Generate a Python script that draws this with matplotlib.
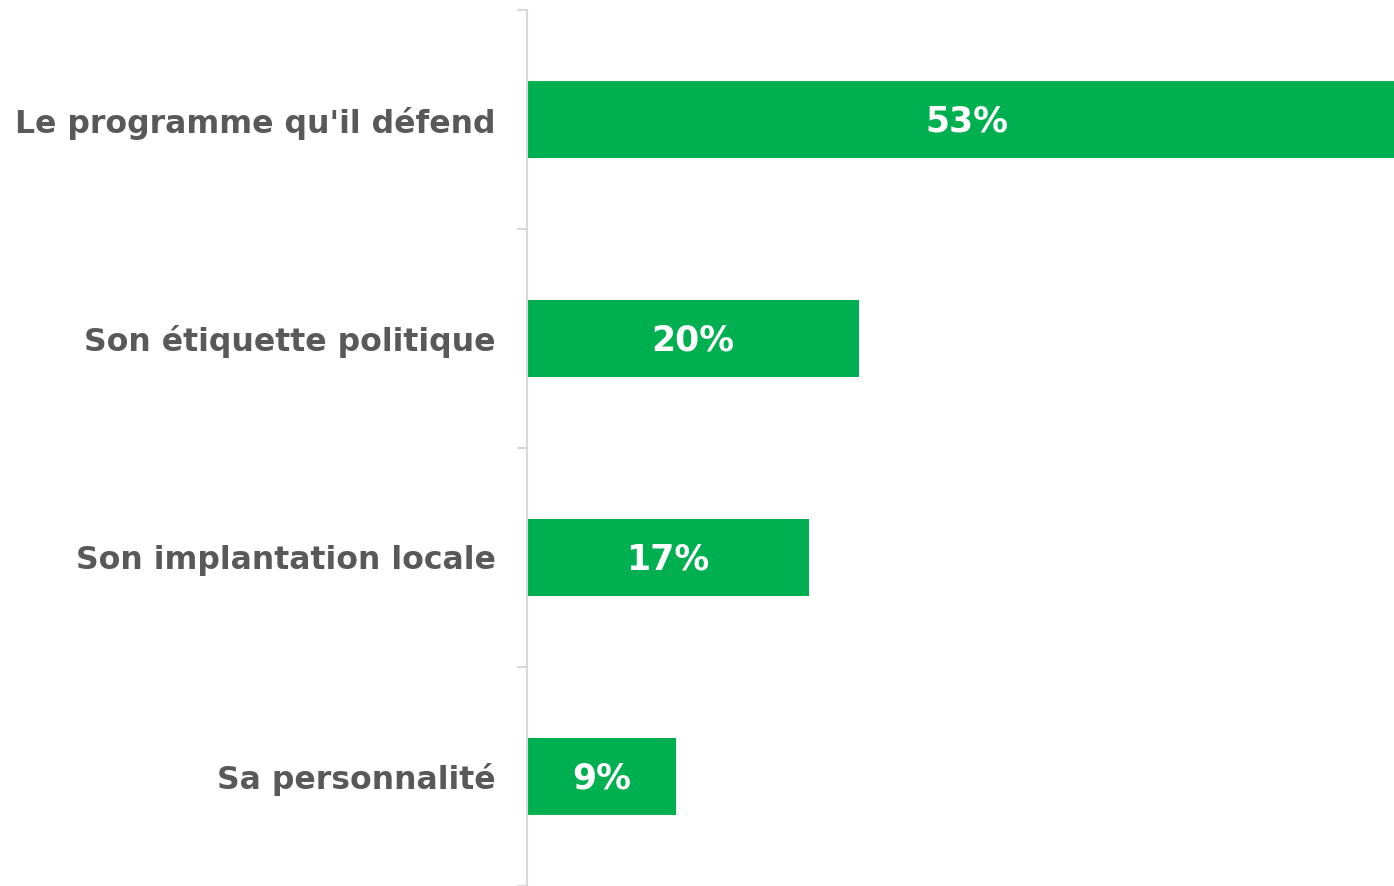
import matplotlib
matplotlib.use("Agg")
import matplotlib.pyplot as plt
import numpy as np

categories = ["Le programme qu'il défend", "Son étiquette politique",
              "Son implantation locale", "Sa personnalité"]
values = [53, 20, 17, 9]
value_labels = ["53%", "20%", "17%", "9%"]

W, H = 1394, 886
fig = plt.figure(figsize=(W / 100, H / 100), dpi=100)
ax = fig.add_axes([526.5 / W, 0, 1 - 526.5 / W, 1 - 10 / H])

n = len(categories)
y = np.arange(n)
green = "#00B050"
ax.barh(y, values, height=0.355, color=green, zorder=2)
ax.set_ylim(n - 0.5, -0.5)
ax.set_xlim(0, 52.2)

for yi, v, lab in zip(y, values, value_labels):
    ax.text(v / 2, yi + 0.01, lab, ha="center", va="center", color="white",
            fontsize=25, fontweight="bold", family="DejaVu Sans", zorder=3)

ax.set_yticks(y)
ax.set_yticklabels(categories, fontsize=22.7, fontweight="bold", color="#595959",
                   family="DejaVu Sans")
ax.tick_params(axis="y", which="major", length=0, pad=22)
ax.set_yticks(np.arange(-0.5, n, 1.0), minor=True)
ax.tick_params(axis="y", which="minor", length=7.5, width=1.5, color="#D9D9D9")
ax.set_xticks([])

for s in ["top", "right", "bottom"]:
    ax.spines[s].set_visible(False)
ax.spines["left"].set_color("#D9D9D9")
ax.spines["left"].set_linewidth(1.5)

fig.savefig("out.png", dpi=100)
